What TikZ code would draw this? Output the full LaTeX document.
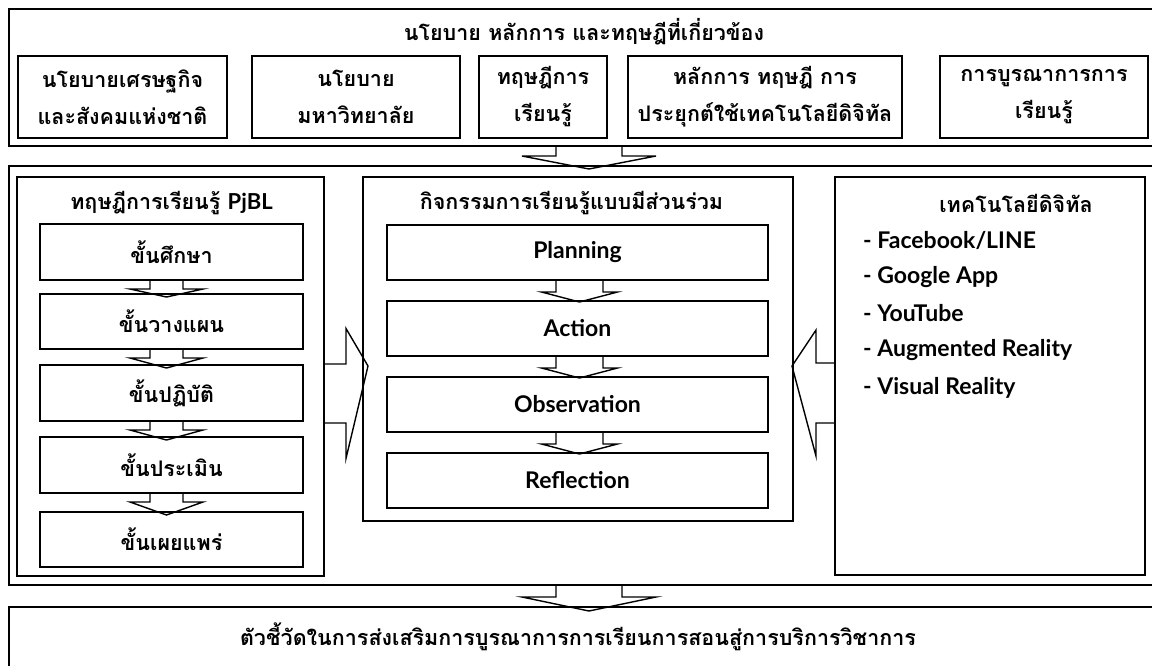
\documentclass[tikz,border=0pt]{standalone}
\usepackage{fontspec}
\setmainfont[Script=Thai]{Loma}
\newfontfamily\latfont{Lato}
\newcommand\lat[1]{{\latfont\bfseries\fontsize{22}{37}\selectfont #1}}
\tikzset{
  x=1pt, y=-1pt,
  frame/.style={draw, line width=1.6pt, inner sep=0pt, outer sep=0pt, anchor=north west},
  boxw/.style={frame, fill=white},
  txt/.style={font=\fontsize{21.5}{37}\selectfont\bfseries, align=center, inner sep=0pt},
  ltxt/.style={font=\fontsize{23}{37}\selectfont\latfont\bfseries, align=center, inner sep=0pt},
  item/.style={font=\fontsize{23}{37}\selectfont\latfont\bfseries, anchor=west, inner sep=0pt},
  blk/.style={draw, line width=1.4pt, line join=miter},
}
% block arrow downward: from, to, x offset, shaft half, head half, neck, tip overshoot
\newcommand\dnarr[7]{%
  \draw[blk] ([xshift={#3-#4}]#1.south) -- ([xshift={#3-#4},yshift={0-#6}]#1.south)
    -- ([xshift={#3-#5},yshift={0-#6}]#1.south) -- ([xshift={#3},yshift={0-(#7)}]#2.north)
    -- ([xshift={#3+#5},yshift={0-#6}]#1.south) -- ([xshift={#3+#4},yshift={0-#6}]#1.south)
    -- ([xshift={#3+#4}]#1.south);}
% block arrow rightward: from(east), to(west), y offset (down +), shaft half, head half, neck, overshoot
\newcommand\rtarr[7]{%
  \draw[blk] ([yshift={0-(#3)+#4}]#1.east) -- ([yshift={0-(#3)+#4},xshift={#6}]#1.east)
    -- ([yshift={0-(#3)+#5},xshift={#6}]#1.east) -- ([yshift={0-(#3)},xshift={#7}]#2.west)
    -- ([yshift={0-(#3)-#5},xshift={#6}]#1.east) -- ([yshift={0-(#3)-#4},xshift={#6}]#1.east)
    -- ([yshift={0-(#3)-#4}]#1.east);}
% block arrow leftward: from(west), to(east)
\newcommand\ltarr[7]{%
  \draw[blk] ([yshift={0-(#3)+#4}]#1.west) -- ([yshift={0-(#3)+#4},xshift={0-#6}]#1.west)
    -- ([yshift={0-(#3)+#5},xshift={0-#6}]#1.west) -- ([yshift={0-(#3)},xshift={0-(#7)}]#2.east)
    -- ([yshift={0-(#3)-#5},xshift={0-#6}]#1.west) -- ([yshift={0-(#3)-#4},xshift={0-#6}]#1.west)
    -- ([yshift={0-(#3)-#4}]#1.west);}
\begin{document}
\begin{tikzpicture}
\useasboundingbox[fill=white] (0,0) rectangle (1152,665);

% ---- top section
\node[frame, minimum width=1151pt, minimum height=137pt] (top) at (9,9) {};
\node[txt] (toptitle) at (584,32) {นโยบาย หลักการ และทฤษฎีที่เกี่ยวข้อง};
\node[boxw, minimum width=209pt, minimum height=82pt] (t1) at (18,56) {};
\node[txt] at (t1.center) {นโยบายเศรษฐกิจ\\และสังคมแห่งชาติ};
\node[boxw, minimum width=208pt, minimum height=82pt] (t2) at (252,56) {};
\node[txt] at (t2.center) {นโยบาย\\มหาวิทยาลัย};
\node[boxw, minimum width=128pt, minimum height=82pt] (t3) at (479,56) {};
\node[txt] at (t3.center) {ทฤษฎีการ\\เรียนรู้};
\node[boxw, minimum width=274pt, minimum height=82pt] (t4) at (628,56) {};
\node[txt] at (t4.center) {หลักการ ทฤษฎี การ\\ประยุกต์ใช้เทคโนโลยีดิจิทัล};
\node[boxw, minimum width=208pt, minimum height=82pt] (t5) at (940,56) {};
\node[txt] at (t5.center) {การบูรณาการการ\\เรียนรู้};

% ---- middle section
\node[frame, minimum width=1151pt, minimum height=419pt] (mid) at (9,166) {};

% left column
\node[frame, minimum width=307pt, minimum height=399pt] (left) at (17,177) {};
\node[txt] (lefttitle) at (171.5,203) {ทฤษฎีการเรียนรู้ \lat{PjBL}};
\node[boxw, minimum width=263pt, minimum height=56pt] (s1) at (40,224) {};
\node[txt] at (s1.center) {ขั้นศึกษา};
\node[boxw, minimum width=263pt, minimum height=55pt] (s2) at (40,294) {};
\node[txt] at (s2.center) {ขั้นวางแผน};
\node[boxw, minimum width=263pt, minimum height=56pt] (s3) at (40,365) {};
\node[txt] at (s3.center) {ขั้นปฏิบัติ};
\node[boxw, minimum width=263pt, minimum height=56pt] (s4) at (40,437) {};
\node[txt] at (s4.center) {ขั้นประเมิน};
\node[boxw, minimum width=263pt, minimum height=55pt] (s5) at (40,512) {};
\node[txt] at (s5.center) {ขั้นเผยแพร่};
\dnarr{s1}{s2}{-5}{16.5}{36.5}{9}{3}
\dnarr{s2}{s3}{-5}{16.5}{36.5}{9}{3}
\dnarr{s3}{s4}{-5}{16.5}{36.5}{9}{3}
\dnarr{s4}{s5}{-5}{16.5}{36.5}{9}{3}

% centre column
\node[frame, minimum width=430pt, minimum height=344pt] (centre) at (363,177) {};
\node[txt] (centretitle) at (571.5,203) {กิจกรรมการเรียนรู้แบบมีส่วนร่วม};
\node[boxw, minimum width=381pt, minimum height=55pt] (p1) at (387,225) {};
\node[ltxt] at (p1.center) {Planning};
\node[boxw, minimum width=381pt, minimum height=55pt] (p2) at (387,301) {};
\node[ltxt] at (p2.center) {Action};
\node[boxw, minimum width=381pt, minimum height=55pt] (p3) at (387,377) {};
\node[ltxt] at (p3.center) {Observation};
\node[boxw, minimum width=381pt, minimum height=55pt] (p4) at (387,453) {};
\node[ltxt] at (p4.center) {Reflection};
\dnarr{p1}{p2}{2}{23.5}{38}{12}{1}
\dnarr{p2}{p3}{2}{23.5}{38}{12}{1}
\dnarr{p3}{p4}{2}{23.5}{38}{12}{1}

% right column
\node[frame, minimum width=310pt, minimum height=398pt] (right) at (835,177) {};
\node[txt] (righttitle) at (1016,203) {เทคโนโลยีดิจิทัล};
\node[item] (r1) at (863,240) {- Facebook/LINE};
\node[item] (r2) at (863,277) {- Google App};
\node[item] (r3) at (863,313) {- YouTube};
\node[item] (r4) at (863,350) {- Augmented Reality};
\node[item] (r5) at (863,388) {- Visual Reality};

% big arrows into centre
\rtarr{left}{centre}{17}{29.5}{65}{22}{5}
\ltarr{right}{centre}{17}{30}{63}{19}{1}

% ---- bottom section
\node[frame, minimum width=1151pt, minimum height=62pt] (bottom) at (9,607) {};
\node[txt] (bottomtext) at (578,637) {ตัวชี้วัดในการส่งเสริมการบูรณาการการเรียนการสอนสู่การบริการวิชาการ};

% section arrows
\dnarr{top}{mid}{4.5}{33}{67}{10}{3}
\dnarr{mid}{bottom}{4.5}{33}{67}{12}{4}
\end{tikzpicture}
\end{document}
